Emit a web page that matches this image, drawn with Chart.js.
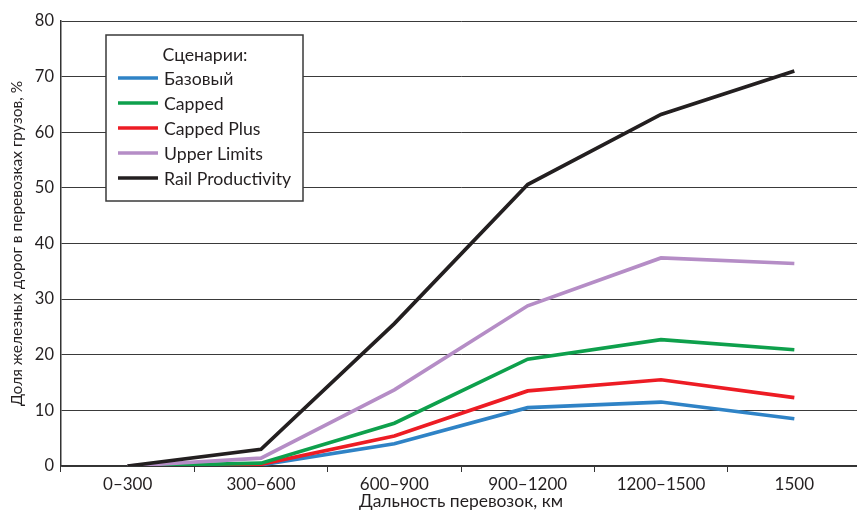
<!DOCTYPE html>
<html>
<head>
<meta charset="utf-8">
<script src="https://cdn.jsdelivr.net/npm/chart.js@4.4.0/dist/chart.umd.min.js"></script>
<style>
  html, body { margin: 0; padding: 0; background: #fff; overflow: hidden; }
  #wrap { width: 861px; height: 512px; }
</style>
</head>
<body>
<div id="wrap"><canvas id="myChart"></canvas></div>
<script>
var categories = ["0–300", "300–600", "600–900", "900–1200", "1200–1500", "1500"];
var seriesNames = ["Базовый", "Capped", "Capped Plus", "Upper Limits", "Rail Productivity"];
var bazovy = [0, 0.2, 4.0, 10.5, 11.5, 8.5];
var capped = [0, 0.5, 7.7, 19.2, 22.7, 20.9];
var cappedPlus = [0, 0.3, 5.4, 13.5, 15.5, 12.3];
var upperLimits = [0, 1.4, 13.7, 28.8, 37.4, 36.4];
var railProductivity = [0, 3.0, 25.6, 50.6, 63.2, 71.0];
var yTicks = [0, 10, 20, 30, 40, 50, 60, 70, 80];
var colors = ["#2f83c6", "#0ea04c", "#ed1c24", "#b58dc6", "#231f20"];

var font = "Lato, 'Open Sans', sans-serif";
var allData = [bazovy, capped, cappedPlus, upperLimits, railProductivity];
// which one lies on top: black, purple, green, red, blue
var drawOrder = [5, 3, 4, 2, 1];

var datasets = allData.map(function (d, i) {
  return {
    label: seriesNames[i],
    data: d,
    borderColor: colors[i],
    backgroundColor: colors[i],
    borderWidth: 3.7,
    pointRadius: 0,
    tension: 0,
    order: drawOrder[i],
  };
});

// legend box drawn inside the plot
var boxLegend = {
  id: "boxLegend",
  afterDatasetsDraw: function (chart) {
    var ctx = chart.ctx;
    var x = 106, y = 35, w = 197, h = 166;
    ctx.save();
    ctx.fillStyle = "#fff";
    ctx.fillRect(x, y, w, h);
    ctx.strokeStyle = "#3a3a3a";
    ctx.lineWidth = 1.5;
    ctx.strokeRect(x, y, w, h);
    ctx.fillStyle = "#231f20";
    ctx.font = "17.7px " + font;
    ctx.textBaseline = "middle";
    ctx.textAlign = "center";
    ctx.fillText("Сценарии:", x + 99, y + 20);
    ctx.textAlign = "left";
    chart.data.datasets.forEach(function (ds, i) {
      var ly = y + 43 + i * 25;
      ctx.strokeStyle = ds.borderColor;
      ctx.lineWidth = 3.7;
      ctx.beginPath();
      ctx.moveTo(x + 12, ly);
      ctx.lineTo(x + 52, ly);
      ctx.stroke();
      ctx.fillText(ds.label, x + 58, ly + 1);
    });
    ctx.restore();
  },
};

new Chart("myChart", {
  type: "line",
  data: { labels: categories, datasets: datasets },
  plugins: [boxLegend],
  options: {
    responsive: true,
    maintainAspectRatio: false,
    animation: false,
    layout: { padding: { top: 21, right: 0, left: 0, bottom: 0 } },
    plugins: { legend: { display: false }, tooltip: { enabled: false } },
    scales: {
      x: {
        offset: true,
        grid: { offset: true, drawOnChartArea: false, drawTicks: true, tickLength: 6, color: "#333", lineWidth: 1 },
        border: { display: true, color: "#333", width: 1.5 },
        ticks: { color: "#231f20", font: { family: font, size: 17 }, padding: 2, maxRotation: 0 },
        title: { display: true, text: "Дальность перевозок, км", color: "#231f20", font: { family: font, size: 17.5 }, padding: { top: 0, bottom: 0 } },
        afterFit: function (s) { s.height = 46; },
      },
      y: {
        min: 0,
        max: 80,
        afterBuildTicks: function (s) { s.ticks = yTicks.map(function (v) { return { value: v }; }); },
        grid: { drawTicks: false, color: "#3a3a3a", lineWidth: 1 },
        border: { display: true, color: "#333", width: 1.5 },
        ticks: { color: "#231f20", font: { family: font, size: 16.5 }, padding: 7 },
        title: { display: true, text: "Доля железных дорог в перевозках грузов, %", color: "#231f20", font: { family: font, size: 15.5 }, padding: { top: 8, bottom: 0 } },
        afterFit: function (s) { s.width = 61; },
      },
    },
  },
});
</script>
</body>
</html>
